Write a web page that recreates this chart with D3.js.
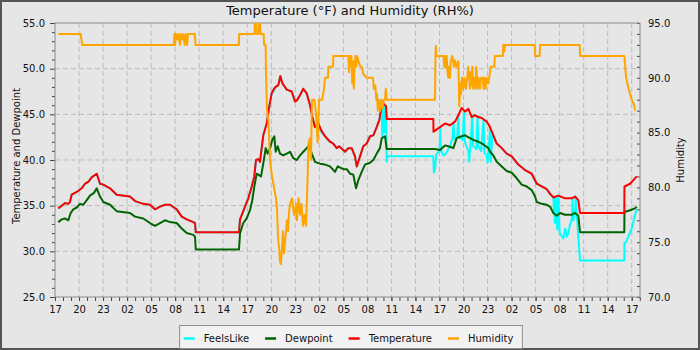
<!DOCTYPE html>
<html>
<head>
<meta charset="utf-8">
<script src="https://cdn.jsdelivr.net/npm/d3@7"></script>
<style>
  body { margin: 0; background: #e6e6e6; }
  svg { display: block; font-family: 'DejaVu Sans', sans-serif; }
</style>
</head>
<body>
<div id="graf"></div>
<script>
// Datos: [horas desde las 17:00 del primer dia, valor]
const horasTotal = 73.03
const etiquetasX = ['17','20','23','02','05','08','11','14','17','20','23','02','05',
                    '08','11','14','17','20','23','02','05','08','11','14','17']
const ticksTemp = [25, 30, 35, 40, 45, 50, 55]
const ticksHum = [70, 75, 80, 85, 90, 95]

const temperature = [
  [0.41,34.7],[0.84,35.0],[1.25,35.3],[1.66,35.2],[1.87,35.4],[2.08,36.2],[2.71,36.5],[3.33,36.9],[3.75,37.4],[4.16,37.6],
  [4.58,38.1],[5.21,38.5],[5.62,37.4],[6.03,37.3],[6.87,36.9],[7.70,36.2],[9.36,36.0],[9.99,35.5],[11.02,35.2],[11.86,35.1],
  [12.48,34.6],[13.11,34.9],[13.73,35.1],[14.36,35.1],[15.19,34.6],[15.82,33.8],[16.44,33.5],[17.27,33.2],[17.48,33.1],[17.57,32.1],
  [22.97,32.1],[23.10,33.5],[23.72,34.9],[24.13,35.8],[24.56,37.1],[24.88,38.2],[25.09,40.0],[25.38,40.1],[25.59,39.8],[26.00,42.7],
  [26.43,44.0],[26.72,45.7],[27.05,47.3],[27.34,47.8],[27.55,48.0],[27.88,48.2],[28.13,49.2],[28.38,48.4],[28.93,47.7],[29.55,47.5],
  [29.96,46.4],[30.17,46.5],[30.59,47.1],[31.00,47.8],[31.42,47.3],[31.84,46.0],[32.12,44.7],[32.46,43.6],[32.87,44.0],[33.21,43.3],
  [33.71,42.6],[34.33,42.0],[34.74,41.8],[35.17,41.3],[35.46,41.5],[35.99,41.1],[36.20,40.9],[36.62,41.3],[37.04,41.3],[37.45,40.4],
  [37.67,39.3],[38.08,40.4],[38.49,41.5],[38.91,41.8],[39.33,42.6],[39.74,42.7],[40.16,43.6],[40.49,44.4],[40.79,46.0],[40.99,46.2],
  [41.32,45.9],[41.41,44.5],[47.23,44.5],[47.25,43.1],[48.06,43.6],[48.69,44.0],[49.31,43.8],[49.94,44.2],[50.35,44.9],[50.77,45.7],
  [51.19,45.3],[51.60,45.6],[52.02,44.7],[52.43,44.9],[52.85,44.7],[53.27,44.6],[53.90,44.2],[54.31,43.6],[54.72,42.7],[55.14,41.8],
  [55.77,41.3],[56.39,40.7],[57.02,40.4],[57.84,39.5],[58.68,38.9],[59.51,38.5],[60.14,37.4],[60.76,37.1],[61.39,36.8],[61.80,36.3],
  [62.21,35.9],[62.83,36.1],[63.67,35.8],[64.51,35.8],[64.92,36.0],[65.33,35.6],[65.54,34.2],[71.07,34.2],[71.09,37.1],[71.79,37.4],
  [72.20,37.8],[72.62,38.2]
]

const feelsLike = [
  [0.41,34.7],[0.84,35.0],[1.25,35.3],[1.66,35.2],[1.87,35.4],[2.08,36.2],[2.71,36.5],[3.33,36.9],[3.75,37.4],[4.16,37.6],
  [4.58,38.1],[5.21,38.5],[5.62,37.4],[6.03,37.3],[6.87,36.9],[7.70,36.2],[9.36,36.0],[9.99,35.5],[11.02,35.2],[11.86,35.1],
  [12.48,34.6],[13.11,34.9],[13.73,35.1],[14.36,35.1],[15.19,34.6],[15.82,33.8],[16.44,33.5],[17.27,33.2],[17.48,33.1],[17.57,32.1],
  [22.97,32.1],[23.10,33.5],[23.72,34.9],[24.13,35.8],[24.56,37.1],[24.88,38.2],[25.09,40.0],[25.38,40.1],[25.59,39.8],[26.00,42.7],
  [26.43,44.0],[26.72,45.7],[27.05,47.3],[27.34,47.6],[27.55,48.0],[27.88,48.2],[28.13,49.2],[28.38,48.4],[28.93,47.7],[29.55,47.5],
  [29.96,46.4],[30.17,46.5],[30.59,47.1],[31.00,47.8],[31.42,47.3],[31.84,46.0],[32.12,44.7],[32.46,43.6],[32.87,44.0],[33.21,43.1],
  [33.71,42.6],[34.33,42.0],[34.74,41.8],[35.17,41.3],[35.46,41.5],[35.99,41.1],[36.20,40.9],[36.62,41.3],[37.04,41.3],[37.45,40.4],
  [37.67,39.3],[38.08,40.4],[38.49,41.5],[38.91,41.8],[39.33,42.6],[39.74,42.7],[40.16,43.6],[40.49,44.4],[40.79,46.0],[40.85,42.6],
  [40.99,46.2],[41.1,43.0],[41.2,45.9],[41.32,45.9],[41.41,39.8],[41.5,40.4],[47.23,40.4],[47.3,38.6],[47.44,39.0],[47.6,40.6],
  [48.0,41.0],[48.1,43.6],[48.2,41.0],[48.5,40.5],[48.8,40.7],[49.3,41.5],[49.6,42.3],[49.75,44.1],[49.85,42.3],[50.2,42.5],
  [50.35,44.9],[50.45,42.5],[50.9,42.2],[51.05,45.4],[51.15,42.0],[51.6,41.0],[51.7,39.8],[51.85,41.5],[52.1,44.8],[52.2,41.5],
  [52.6,41.2],[52.75,44.8],[52.85,41.5],[53.2,41.0],[53.5,44.5],[53.6,40.8],[53.9,40.5],[54.0,39.7],[54.2,42.0],[54.31,43.6],
  [54.4,39.8],[54.6,42.7],[54.72,42.7],[55.14,41.8],[55.77,41.3],[56.39,40.7],[57.02,40.4],[57.84,39.5],[58.68,38.9],[59.51,38.5],
  [60.14,37.4],[60.76,37.1],[61.39,36.8],[61.80,36.3],[62.21,35.9],[62.4,33.1],[62.5,36.0],[62.7,32.4],[62.83,36.1],[63.0,32.0],
  [63.46,31.4],[63.7,32.5],[63.9,31.6],[64.09,32.0],[64.3,33.0],[64.51,33.4],[64.6,35.8],[64.71,33.4],[64.92,34.2],[65.0,36.0],
  [65.13,34.2],[65.33,31.6],[65.54,29.0],[71.07,29.0],[71.09,30.9],[71.3,31.0],[71.57,31.6],[72.0,32.5],[72.41,34.0],[72.62,34.6]
]

const dewpoint = [
  [0.41,33.2],[0.84,33.5],[1.25,33.6],[1.66,33.4],[1.96,34.2],[2.28,34.6],[2.71,34.8],[3.12,35.2],[3.53,35.1],[3.96,35.6],
  [4.37,36.1],[4.87,36.4],[5.21,36.9],[5.62,36.0],[6.03,35.4],[6.87,35.1],[7.70,34.4],[9.36,34.2],[9.99,33.8],[11.02,33.6],
  [11.86,33.1],[12.48,32.8],[13.11,33.1],[13.73,33.4],[14.36,33.2],[15.19,33.1],[15.82,32.5],[16.44,32.0],[17.27,31.8],[17.48,31.6],
  [17.57,30.2],[22.97,30.2],[23.10,32.0],[23.51,33.1],[23.93,33.6],[24.34,34.5],[24.63,35.6],[24.88,37.1],[25.18,38.5],[25.38,38.4],
  [25.72,38.2],[26.00,39.6],[26.30,41.3],[26.55,40.7],[26.84,41.3],[27.13,42.2],[27.38,42.6],[27.55,40.9],[27.80,41.5],[28.09,40.7],
  [28.50,40.5],[28.93,40.7],[29.34,40.9],[29.75,40.2],[30.17,40.0],[30.59,40.5],[31.00,40.9],[31.42,41.3],[31.71,41.6],[32.05,40.7],
  [32.46,39.8],[33.08,39.6],[33.71,39.5],[34.33,39.3],[34.96,38.7],[35.29,39.3],[35.99,39.0],[36.42,39.0],[36.83,38.5],[37.24,38.4],
  [37.58,36.9],[37.87,37.8],[38.29,38.7],[38.70,39.5],[39.33,39.7],[39.74,40.0],[40.16,40.7],[40.57,41.3],[40.79,42.4],[41.20,42.6],
  [41.41,41.2],[47.44,41.2],[48.06,41.1],[48.69,41.6],[49.10,41.5],[49.73,41.3],[50.15,42.4],[50.77,42.6],[51.19,42.7],[51.81,42.4],
  [52.22,42.2],[52.85,42.0],[53.47,41.7],[54.10,41.3],[54.31,40.9],[54.72,40.5],[55.14,39.8],[55.77,39.3],[56.39,38.8],[57.02,38.6],
  [57.64,38.0],[58.26,37.3],[58.89,37.1],[59.51,36.7],[59.93,36.0],[60.14,35.4],[60.76,35.2],[61.39,35.1],[61.80,34.9],[62.21,34.2],
  [62.63,33.9],[63.05,34.2],[63.67,34.0],[64.51,34.0],[64.92,34.2],[65.33,33.9],[65.54,32.1],[71.07,32.1],[71.09,34.3],[71.79,34.5],
  [72.41,34.7],[72.62,34.9]
]

const humidity = [
  [0.41,94],[3.2,94],[3.3,93.5],[3.4,93],[14.86,93],[14.9,94],[15.0,93],[15.1,94],[15.3,93.5],[15.4,94],
  [15.6,93],[15.7,94],[15.9,93.5],[16.0,94],[16.2,93],[16.3,94],[16.5,93],[16.6,94],[17.45,94],[17.55,93],
  [22.95,93],[23.0,94],[24.9,94],[24.95,95],[25.1,95],[25.15,94],[25.4,94],[25.45,95],[25.6,95],[25.65,94],
  [26.05,94],[26.1,93],[26.3,93],[26.34,90.4],[26.47,87],[26.65,86],[26.84,82.5],[27.09,81],[27.34,80],[27.59,79],
  [27.72,78],[27.84,75.5],[27.97,74.5],[28.09,73.2],[28.21,73],[28.34,74.5],[28.46,76],[28.59,74],[28.78,75.5],[28.96,77],
  [29.09,76],[29.21,77.7],[29.34,78.5],[29.59,79],[29.84,77.5],[30.09,78.5],[30.21,77],[30.40,79],[30.59,77.5],[30.77,78.5],
  [30.96,76.5],[31.15,77.5],[31.34,76.5],[31.46,79],[31.65,84],[31.84,84.5],[31.96,82.5],[32.08,88],[32.37,88],[32.58,86.8],
  [32.80,84.1],[32.96,88],[33.37,88],[33.58,89],[33.71,90],[34.08,90],[34.12,91],[34.71,91],[34.74,92],[36.62,92],
  [36.7,90.5],[36.8,92],[36.9,91],[37.0,92],[37.1,89.5],[37.2,91.5],[37.3,89],[37.4,91],[37.5,92],[37.6,91],
  [37.7,92],[37.9,91.5],[38.1,91],[38.3,91],[38.5,90.3],[38.7,90.2],[38.9,90],[39.7,90],[39.8,89],[40.0,89.3],
  [40.1,88],[40.2,88.5],[40.3,87],[40.45,88],[40.6,87],[40.75,88],[40.9,87.2],[41.05,88],[41.2,88],[41.3,89],
  [41.4,88],[47.44,88],[47.5,92],[47.55,92.9],[47.6,92],[48.48,92],[48.6,91],[48.7,92],[48.8,90.9],[48.9,92],
  [49.0,90.5],[49.1,90],[49.2,91],[49.31,90],[49.4,91.5],[49.6,92],[49.8,91],[49.94,91.6],[50.1,91],[50.35,91.5],
  [50.47,87.4],[50.6,89.5],[50.7,88.5],[50.8,90],[50.97,89],[51.1,90],[51.3,89],[51.6,91],[51.7,90],[51.8,89],
  [51.9,90.5],[52.0,89.3],[52.1,91],[52.2,89],[52.3,90],[52.45,89],[52.6,91],[52.75,89],[52.9,90],[53.05,89],
  [53.2,90],[53.4,90],[53.5,89],[53.6,90],[53.75,89],[53.9,90],[54.1,89.5],[54.4,91],[54.85,91],[54.9,92],
  [55.9,92],[55.97,93],[56.1,92.4],[56.18,93],[59.9,93],[59.95,92],[60.5,92],[60.55,93],[65.5,93],[65.55,92],
  [71.07,92],[71.3,90],[71.6,89],[72.0,88],[72.3,87.5],[72.41,87]
]

const series = [
  { nombre: 'FeelsLike',   datos: feelsLike,   color: '#00ffff', eje: 'temp' },
  { nombre: 'Dewpoint',    datos: dewpoint,    color: '#006400', eje: 'temp' },
  { nombre: 'Temperature', datos: temperature, color: '#ff0000', eje: 'temp' },
  { nombre: 'Humidity',    datos: humidity,    color: '#ffa500', eje: 'hum' }
]

// Configuracion
const ancho_total = 700
const alto_total = 350
const margins = { top: 23, left: 55, right: 60, bottom: 53 }
const ancho = ancho_total - margins.left - margins.right
const alto = alto_total - margins.top - margins.bottom

const svg = d3.select('#graf').append('svg')
  .attr('width', ancho_total)
  .attr('height', alto_total)

svg.append('rect')
  .attr('x', 1).attr('y', 1)
  .attr('width', ancho_total - 2).attr('height', alto_total - 2)
  .attr('fill', '#e6e6e6')
  .attr('stroke', '#555')
  .attr('stroke-width', 2)

svg.append('text')
  .attr('x', 350).attr('y', 15)
  .attr('text-anchor', 'middle')
  .attr('font-size', '13px')
  .attr('fill', '#111')
  .text('Temperature (°F) and Humidity (RH%)')

const g = svg.append('g')
  .attr('transform', `translate(${margins.left}, ${margins.top})`)

// Escaladores
const x = d3.scaleLinear().domain([0, horasTotal]).range([0, ancho])
const yT = d3.scaleLinear().domain([d3.min(ticksTemp), d3.max(ticksTemp)]).range([alto, 0])
const yH = d3.scaleLinear().domain([d3.min(ticksHum), d3.max(ticksHum)]).range([alto, 0])

// Rejilla
const horasEtiq = etiquetasX.map((e, i) => i * 3)
g.selectAll('.gridx')
  .data(horasEtiq.slice(1))
  .enter().append('line')
  .attr('x1', d => x(d)).attr('x2', d => x(d))
  .attr('y1', 0).attr('y2', alto)
  .attr('stroke', '#bbb').attr('stroke-dasharray', '5,3')

g.selectAll('.gridy')
  .data(ticksTemp.slice(1, -1))
  .enter().append('line')
  .attr('x1', 0).attr('x2', ancho)
  .attr('y1', d => yT(d)).attr('y2', d => yT(d))
  .attr('stroke', '#bbb').attr('stroke-dasharray', '5,3')

// Ejes
function estilo(sel) {
  sel.select('.domain').remove()
  sel.selectAll('line').attr('stroke', '#444')
  sel.selectAll('text').attr('fill', '#111').attr('font-size', '10px')
    .attr('font-family', 'DejaVu Sans, sans-serif')
}

g.append('g')
  .attr('transform', `translate(0,${alto})`)
  .call(d3.axisBottom(x).tickValues(d3.range(0, 74)).tickSize(4).tickFormat(''))
  .call(estilo)
g.append('g')
  .attr('transform', `translate(0,${alto})`)
  .call(d3.axisBottom(x).tickValues(horasEtiq).tickSize(4).tickPadding(5)
          .tickFormat((d, i) => etiquetasX[i]))
  .call(estilo)

g.append('g')
  .call(d3.axisLeft(yT).tickValues(d3.range(25, 56).filter(d => d % 5)).tickSize(3).tickFormat(''))
  .call(estilo)
g.append('g')
  .call(d3.axisLeft(yT).tickValues(ticksTemp).tickSize(5).tickPadding(5).tickFormat(d3.format('.1f')))
  .call(estilo)

g.append('g')
  .attr('transform', `translate(${ancho},0)`)
  .call(d3.axisRight(yH).tickValues(d3.range(70, 96)).tickSize(-3).tickFormat(''))
  .call(estilo)
g.append('g')
  .attr('transform', `translate(${ancho},0)`)
  .call(d3.axisRight(yH).tickValues(ticksHum).tickSize(0).tickPadding(8).tickFormat(d3.format('.1f')))
  .call(estilo)

// marco
g.append('rect')
  .attr('width', ancho).attr('height', alto)
  .attr('fill', 'none').attr('stroke', '#8c8c8c')

svg.append('text')
  .attr('transform', 'translate(19.5,156) rotate(-90)')
  .attr('text-anchor', 'middle')
  .attr('font-size', '10px')
  .attr('fill', '#111')
  .text('Temperature and Dewpoint')

svg.append('text')
  .attr('transform', 'translate(684,160) rotate(-90)')
  .attr('text-anchor', 'middle')
  .attr('font-size', '10px')
  .attr('fill', '#111')
  .text('Humidity')

// Lineas
g.append('clipPath').attr('id', 'clip')
  .append('rect').attr('width', ancho).attr('height', alto)

series.forEach(s => {
  const y = s.eje == 'temp' ? yT : yH
  const linea = d3.line().x(d => x(d[0])).y(d => y(d[1]))
  g.append('path')
    .datum(s.datos)
    .attr('clip-path', 'url(#clip)')
    .attr('d', linea)
    .attr('fill', 'none')
    .attr('stroke', s.color)
    .attr('stroke-width', 2)
    .attr('stroke-linejoin', 'round')
})

// Leyenda
const ley = svg.append('g')
const fondo = ley.append('rect')
let cx = 0
series.forEach(s => {
  ley.append('line')
    .attr('x1', cx).attr('x2', cx + 11)
    .attr('y1', 338.5).attr('y2', 338.5)
    .attr('stroke', s.color).attr('stroke-width', 2.5)
  const t = ley.append('text')
    .attr('x', cx + 20).attr('y', 341.5)
    .attr('font-size', '10px')
    .attr('fill', '#111')
    .text(s.nombre)
  cx += 20 + t.node().getComputedTextLength() + 16
})
const anchoLey = cx - 16 + 13
fondo.attr('x', -4).attr('y', 325.5)
  .attr('width', anchoLey).attr('height', 23)
  .attr('fill', '#f2f2f2').attr('stroke', '#8c8c8c')
ley.attr('transform', `translate(${351 - anchoLey / 2 + 4},0)`)
</script>
</body>
</html>
